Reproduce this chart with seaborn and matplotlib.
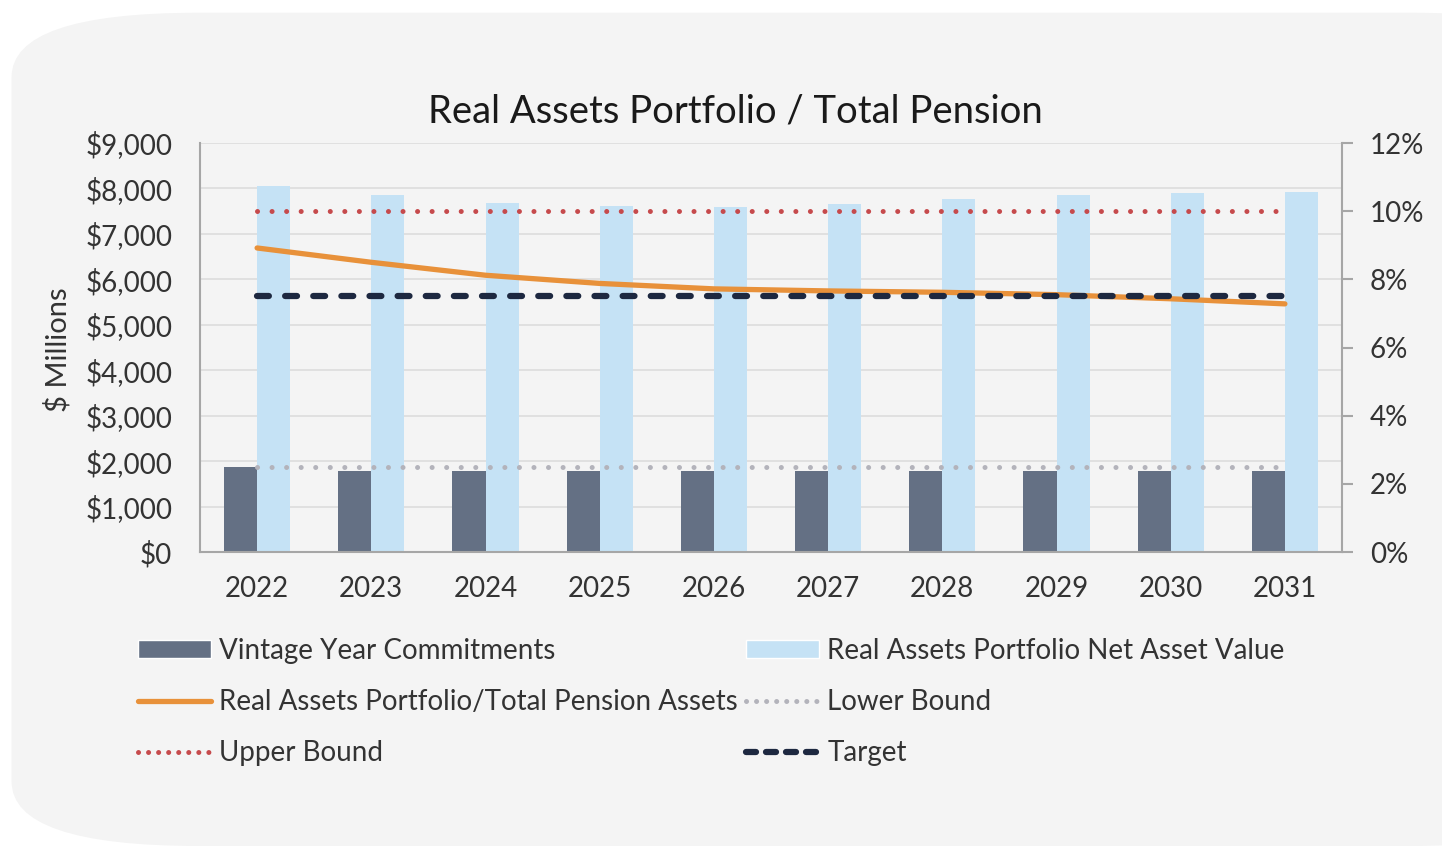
import numpy as np
import pandas as pd
import matplotlib
matplotlib.use("Agg")
import matplotlib.pyplot as plt
import seaborn as sns
from matplotlib.patches import FancyBboxPatch, Patch
from matplotlib.lines import Line2D
from matplotlib.ticker import FuncFormatter

# dados
anos = ["2022", "2023", "2024", "2025", "2026", "2027", "2028", "2029", "2030", "2031"]
compromissos = [1880, 1790, 1790, 1790, 1790, 1790, 1790, 1790, 1790, 1790]
nav = [8050, 7850, 7680, 7620, 7590, 7660, 7760, 7850, 7890, 7930]
pct_pensao = [8.92, 8.50, 8.12, 7.88, 7.72, 7.66, 7.62, 7.55, 7.43, 7.28]
limite_inf = [2.5] * 10
limite_sup = [10.0] * 10
alvo = [7.5] * 10

nome_comp = "Vintage Year Commitments"
nome_nav = "Real Assets Portfolio Net Asset Value"

df = pd.DataFrame({
    "ano": anos * 2,
    "valor": compromissos + nav,
    "serie": [nome_comp] * 10 + [nome_nav] * 10,
})

cor_comp = "#647084"
cor_nav = "#c5e2f5"
cor_laranja = "#e8913a"
cor_sup = "#c64a4c"
cor_inf = "#b3b3bb"
cor_alvo = "#1d2840"
fundo = "#f4f4f4"

sns.set_style("white")
plt.rcParams["font.family"] = ["Lato", "DejaVu Sans"]

fig = plt.figure(figsize=(14.42, 8.46), dpi=100)
fig.patch.set_facecolor("white")
fig.patches.append(FancyBboxPatch((0.008, 0.0), 1.1, 0.985, boxstyle="round,pad=0,rounding_size=0.13",
                                  transform=fig.transFigure, facecolor=fundo, edgecolor="none",
                                  mutation_aspect=846 / 1442, zorder=-10))

ax = fig.add_axes([200 / 1442, 1 - 552 / 846, 1142 / 1442, 409 / 846])
ax.set_facecolor(fundo)

sns.barplot(data=df, x="ano", y="valor", hue="serie", palette=[cor_comp, cor_nav],
            width=0.58, gap=0, ax=ax, legend=False, saturation=1, linewidth=0, zorder=2)
ax.set_xlim(-0.5, 9.5)
ax.set_ylim(0, 9000)
ax.set_yticks(range(0, 9001, 1000))
ax.yaxis.set_major_formatter(FuncFormatter(lambda v, p: f"${v:,.0f}"))
ax.grid(axis="y", color="#dcdcdc", linewidth=1.2, zorder=0)
ax.set_axisbelow(True)
ax.set_xlabel("")
ax.set_ylabel("")
ax.tick_params(axis="both", length=0, labelsize=20, labelcolor="#333333")
ax.tick_params(axis="y", pad=20)
ax.tick_params(axis="x", pad=17)
for s in ["top", "right"]:
    ax.spines[s].set_visible(False)
for s in ["left", "bottom"]:
    ax.spines[s].set_color("#a6a6a6")
    ax.spines[s].set_linewidth(1.5)

ax2 = ax.twinx()
x = np.arange(len(anos))
sns.lineplot(x=x, y=limite_sup, ax=ax2, color=cor_sup, linewidth=3.6,
             linestyle=(0, (0.01, 2.9)), dash_capstyle="round")
sns.lineplot(x=x, y=limite_inf, ax=ax2, color=cor_inf, linewidth=3.6,
             linestyle=(0, (0.01, 2.9)), dash_capstyle="round")
sns.lineplot(x=x, y=pct_pensao, ax=ax2, color=cor_laranja, linewidth=3.8,
             solid_capstyle="round")
sns.lineplot(x=x, y=alvo, ax=ax2, color=cor_alvo, linewidth=4.5,
             linestyle=(0, (1.9, 2.6)), dash_capstyle="round")
ax2.set_ylim(0, 12)
ax2.set_yticks(range(0, 13, 2))
ax2.yaxis.set_major_formatter(FuncFormatter(lambda v, p: f"{v:.0f}%"))
ax2.tick_params(axis="y", length=8, width=1.5, color="#a6a6a6", labelsize=20,
                labelcolor="#333333", pad=12)
ax2.set_xlim(-0.5, 9.5)
for s in ["top", "left", "bottom"]:
    ax2.spines[s].set_visible(False)
ax2.spines["right"].set_color("#a6a6a6")
ax2.spines["right"].set_linewidth(1.5)

fig.text(735 / 1442, 1 - 112 / 846, "Real Assets Portfolio / Total Pension",
         ha="center", va="center", fontsize=27.5, color="#1a1a1a")
fig.text(58 / 1442, 1 - 350 / 846, "$ Millions", rotation=90,
         ha="center", va="center", fontsize=21, color="#333333")

handles = [
    Patch(facecolor=cor_comp, label=nome_comp),
    Line2D([], [], color=cor_laranja, linewidth=3.8, label="Real Assets Portfolio/Total Pension Assets"),
    Line2D([], [], color=cor_sup, linewidth=3.6, linestyle=(0, (0.01, 2.0)),
           dash_capstyle="round", label="Upper Bound"),
    Patch(facecolor=cor_nav, label=nome_nav),
    Line2D([], [], color=cor_inf, linewidth=3.6, linestyle=(0, (0.01, 2.0)),
           dash_capstyle="round", label="Lower Bound"),
    Line2D([], [], color=cor_alvo, linewidth=4.5, linestyle=(0, (1.6, 1.6)),
           dash_capstyle="round", label="Target"),
]
leg = fig.legend(handles=handles, ncol=2, loc="upper left",
                 bbox_to_anchor=(138 / 1442, 1 - 638 / 846), frameon=False,
                 fontsize=20, handlelength=2.63, handleheight=0.6, handletextpad=0.29,
                 labelspacing=0.9, columnspacing=0.3, borderaxespad=0, borderpad=0)
for t in leg.get_texts():
    t.set_color("#333333")

fig.savefig("out.png", dpi=100, facecolor="white")
